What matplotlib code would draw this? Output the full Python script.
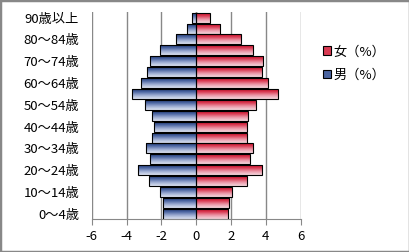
import numpy as np
import matplotlib
matplotlib.use("Agg")
import matplotlib.pyplot as plt
from matplotlib.colors import LinearSegmentedColormap
from matplotlib.patches import Patch, Rectangle

plt.rcParams['font.family'] = ['Noto Sans CJK JP', 'DejaVu Sans']

categories = ["0～4歳", "5～9歳", "10～14歳", "15～19歳", "20～24歳", "25～29歳",
              "30～34歳", "35～39歳", "40～44歳", "45～49歳", "50～54歳", "55～59歳",
              "60～64歳", "65～69歳", "70～74歳", "75～79歳", "80～84歳", "85～89歳",
              "90歳以上"]
male = [1.92, 1.92, 2.07, 2.70, 3.35, 2.64, 2.87, 2.53, 2.40, 2.53, 2.95, 3.68,
        3.16, 2.82, 2.68, 2.05, 1.15, 0.52, 0.25]
female = [1.84, 1.90, 2.05, 2.91, 3.79, 3.08, 3.26, 2.91, 2.91, 2.97, 3.43, 4.69,
          4.12, 3.79, 3.85, 3.27, 2.57, 1.38, 0.78]
xticks = [-6, -4, -2, 0, 2, 4, 6]
label_female = "女（%）"
label_male = "男（%）"

fig = plt.figure(figsize=(4.10, 2.52), dpi=100)
ax = fig.add_axes([91.7/410, 1-219.3/252, (300.7-91.7)/410, (219.3-12.2)/252])

blue_cmap = LinearSegmentedColormap.from_list("b", ["#1a2f6a", "#4a64a0", "#9eadd2", "#dde3f2"])
red_cmap = LinearSegmentedColormap.from_list("r", ["#c2001c", "#d93a52", "#eb98a8", "#f6d8de"])

y = np.arange(len(categories))
h = 0.92
bars_m = ax.barh(y, -np.array(male), height=h, facecolor='none', edgecolor='black', linewidth=0.8, zorder=4)
bars_f = ax.barh(y, np.array(female), height=h, facecolor='none', edgecolor='black', linewidth=0.8, zorder=4)

grad = np.linspace(0, 1, 64).reshape(-1, 1)
for bars, cmap in ((bars_m, blue_cmap), (bars_f, red_cmap)):
    for p in bars:
        x0, y0 = p.get_x(), p.get_y()
        w, hh = p.get_width(), p.get_height()
        im = ax.imshow(grad, cmap=cmap, extent=[min(x0, x0+w), max(x0, x0+w), y0, y0+hh],
                       origin='upper', aspect='auto', zorder=3, interpolation='bilinear')
        im.set_clip_path(p)

ax.set_xlim(-6, 6)
ax.set_ylim(-0.5, len(categories)-0.5)
ax.set_xticks(xticks)
ax.set_xticklabels([str(t) for t in xticks], fontsize=9.5)
ax.set_yticks(y)
ax.set_yticklabels([c if i % 2 == 0 else "" for i, c in enumerate(categories)], fontsize=9.5)
ax.tick_params(axis='y', length=0, pad=9)
ax.tick_params(axis='x', length=4, color='#888888', pad=4, direction='out')
ax.grid(axis='x', color='#888888', linewidth=1.0, zorder=1)
ax.set_axisbelow(True)
for s in ['top', 'right', 'left']:
    ax.spines[s].set_visible(False)
ax.spines['bottom'].set_color('#888888')
ax.axvline(0, color='#888888', linewidth=1.0, zorder=2)

handles = [Patch(facecolor="#d93a52", edgecolor='black', linewidth=0.8, label=label_female),
           Patch(facecolor="#4a64a0", edgecolor='black', linewidth=0.8, label=label_male)]
fig.legend(handles=handles, loc='upper left', bbox_to_anchor=(318/410, 1-40/252),
           frameon=False, fontsize=9.5, handlelength=0.6, handleheight=0.6,
           handletextpad=0.2, labelspacing=0.8, borderaxespad=0)

fig.patches.append(Rectangle((0, 0), 1, 1, transform=fig.transFigure, fill=False,
                             edgecolor='#888888', linewidth=2.5, zorder=10))

fig.savefig("out.png", dpi=100)
